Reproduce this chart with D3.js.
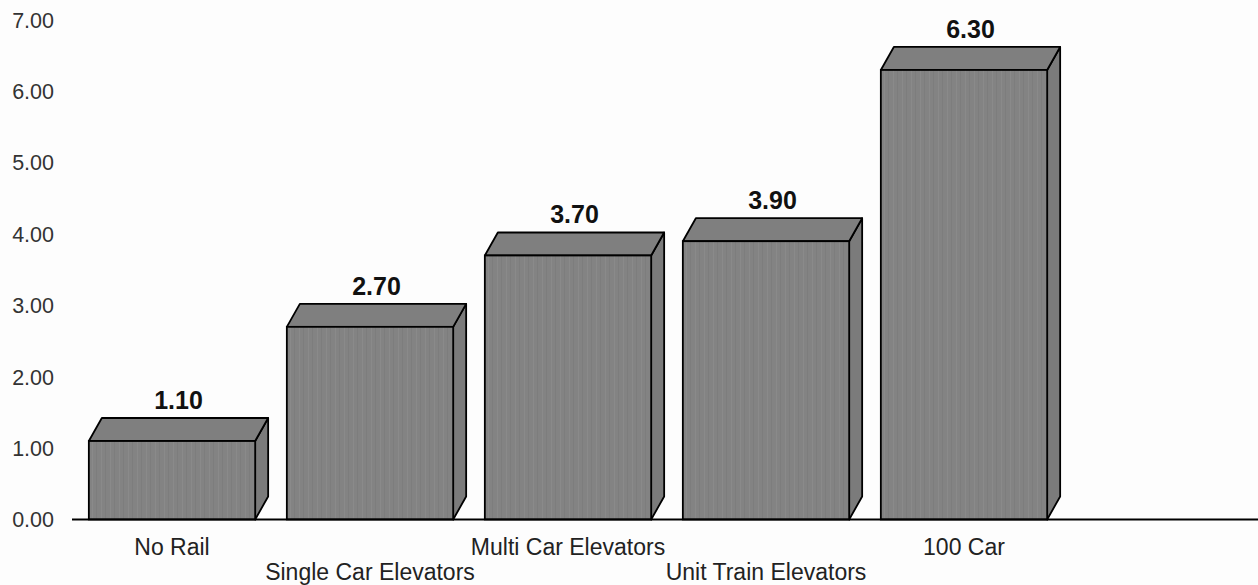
<!DOCTYPE html>
<html><head><meta charset="utf-8">
<script src="https://cdn.jsdelivr.net/npm/d3@7"></script>
<style>html,body{margin:0;padding:0;background:#fdfdfd;}svg{display:block;}</style>
</head><body>
<script>
const categories = ["No Rail","Single Car Elevators","Multi Car Elevators","Unit Train Elevators","100 Car"];
const values = [1.10, 2.70, 3.70, 3.90, 6.30];
const yTicks = [0,1,2,3,4,5,6,7];

const W = 1258, H = 585;
const svg = d3.select("body").append("svg").attr("width", W).attr("height", H);

const defs = svg.append("defs");
const pat = defs.append("pattern").attr("id","streak").attr("patternUnits","userSpaceOnUse")
  .attr("width",9).attr("height",40);
pat.append("rect").attr("width",9).attr("height",40).attr("fill","#838383");
pat.append("rect").attr("x",2).attr("width",1).attr("height",40).attr("fill","#8a8a8a");
pat.append("rect").attr("x",6).attr("width",1).attr("height",40).attr("fill","#7d7d7d");

const x = d3.scaleBand().domain(categories).range([73, 1063]).paddingInner(0.16).paddingOuter(0.08);
const y = d3.scaleLinear().domain([0, 7]).range([519.5, 20]);
const dx = 13, dy = 23;

// y tick labels
svg.append("g").selectAll("text").data(yTicks).join("text")
  .attr("x", 54).attr("y", d => y(d)).attr("dy", "0.36em")
  .attr("text-anchor", "end")
  .attr("font-family", "Liberation Sans, Arial, sans-serif").attr("font-size", 21.5)
  .attr("fill", "#333").text(d => d3.format(".2f")(d));

const data = categories.map((c, i) => ({c, v: values[i]}));
const g = svg.append("g");
const bars = g.selectAll("g.bar").data(data).join("g").attr("class","bar");

bars.append("path") // side face
  .attr("d", d => {
    const x1 = x(d.c) + x.bandwidth(), yt = y(d.v), yb = y(0);
    return `M${x1},${yt}L${x1+dx},${yt-dy}L${x1+dx},${yb-dy}L${x1},${yb}Z`;
  })
  .attr("fill", "#7b7b7b").attr("stroke", "#000").attr("stroke-width", 1.8).attr("stroke-linejoin","round");

bars.append("path") // top face
  .attr("d", d => {
    const x0 = x(d.c), x1 = x0 + x.bandwidth(), yt = y(d.v);
    return `M${x0},${yt}L${x0+dx},${yt-dy}L${x1+dx},${yt-dy}L${x1},${yt}Z`;
  })
  .attr("fill", "#7f7f7f").attr("stroke", "#000").attr("stroke-width", 1.8).attr("stroke-linejoin","round");

bars.append("rect") // front face
  .attr("x", d => x(d.c)).attr("y", d => y(d.v))
  .attr("width", x.bandwidth()).attr("height", d => y(0) - y(d.v))
  .attr("fill", "url(#streak)").attr("stroke", "#000").attr("stroke-width", 1.8);

// value labels
bars.append("text")
  .attr("x", d => x(d.c) + x.bandwidth()/2 + dx/2)
  .attr("y", d => y(d.v) - dy - 9)
  .attr("text-anchor", "middle")
  .attr("font-family", "Liberation Sans, Arial, sans-serif").attr("font-size", 25).attr("font-weight", "bold")
  .attr("fill", "#111").text(d => d3.format(".2f")(d.v));

// baseline
svg.append("line").attr("x1", 72).attr("x2", 1258).attr("y1", y(0)).attr("y2", y(0))
  .attr("stroke", "#000").attr("stroke-width", 2.2);

// category labels (staggered)
svg.append("g").selectAll("text").data(categories).join("text")
  .attr("x", d => x(d) + x.bandwidth()/2)
  .attr("y", (d, i) => i % 2 === 0 ? 555 : 580)
  .attr("text-anchor", "middle")
  .attr("font-family", "Liberation Sans, Arial, sans-serif").attr("font-size", 23)
  .attr("fill", "#222").text(d => d);
</script>
</body></html>
